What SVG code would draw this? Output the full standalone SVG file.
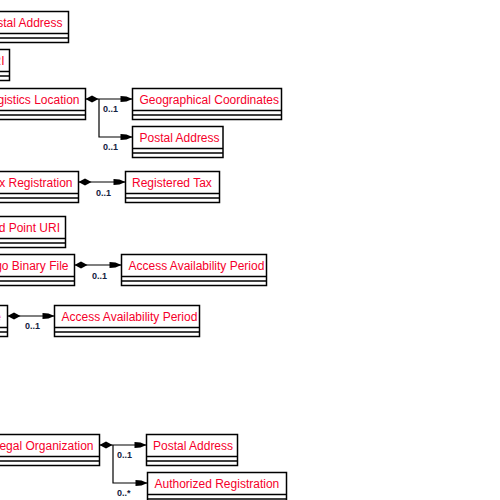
<svg xmlns="http://www.w3.org/2000/svg" width="500" height="500" viewBox="0 0 500 500">
<style>
.box rect{fill:#fff;stroke:#000;stroke-width:1.5}
.box line{stroke:#000;stroke-width:1.5}
.box text{font-family:"Liberation Sans",Arial,sans-serif;font-size:12px;fill:#f5002a}
.conn path{fill:none;stroke:#000;stroke-width:1.2;marker-start:url(#dia);marker-end:url(#arr)}
.conn path.br{marker-start:none}
.mult{font-family:"Liberation Sans",Arial,sans-serif;font-size:9px;font-weight:bold;fill:#142040}
</style>
<defs>
<marker id="arr" markerUnits="userSpaceOnUse" markerWidth="13" markerHeight="10" refX="12" refY="5" orient="auto" overflow="visible">
<path d="M0,2 L6,2.5 L12,5 L6,7.5 L0,8 Z" fill="#000"/>
</marker>
<marker id="dia" markerUnits="userSpaceOnUse" markerWidth="14" markerHeight="10" refX="0" refY="5" orient="auto" overflow="visible">
<path d="M0,5 L6.5,1.5 L13,5 L6.5,8.5 Z" fill="#000"/>
</marker>
</defs>
<rect width="500" height="500" fill="#fff"/>

<g id="postalAddressTop" class="box">
<rect x="-25" y="11.5" width="93.5" height="31"/>
<line x1="-25" y1="33.5" x2="68.5" y2="33.5"/><line x1="-25" y1="38" x2="68.5" y2="38"/>
<text x="62.5" y="26.5" text-anchor="end">Postal Address</text>
</g>
<g id="uriBox" class="box">
<rect x="-40" y="49.5" width="49.5" height="31"/>
<line x1="-40" y1="71.5" x2="9.5" y2="71.5"/><line x1="-40" y1="76" x2="9.5" y2="76"/>
<text x="4.5" y="64.5" text-anchor="end">URI</text>
</g>
<g id="logisticsLocation" class="box">
<rect x="-60" y="88.5" width="145.5" height="31"/>
<line x1="-60" y1="110.5" x2="85.5" y2="110.5"/><line x1="-60" y1="115" x2="85.5" y2="115"/>
<text x="79.5" y="103.5" text-anchor="end">Logistics Location</text>
</g>
<g id="geoCoordinates" class="box">
<rect x="132.5" y="88.5" width="149" height="31"/>
<line x1="132.5" y1="110.5" x2="281.5" y2="110.5"/><line x1="132.5" y1="115" x2="281.5" y2="115"/>
<text x="139.5" y="103.5">Geographical Coordinates</text>
</g>
<g id="postalAddress2" class="box">
<rect x="132.5" y="126.5" width="90.5" height="31"/>
<line x1="132.5" y1="148.5" x2="223" y2="148.5"/><line x1="132.5" y1="153" x2="223" y2="153"/>
<text x="139.5" y="141.5">Postal Address</text>
</g>
<g id="taxRegistration" class="box">
<rect x="-40" y="171.5" width="118.5" height="31"/>
<line x1="-40" y1="193.5" x2="78.5" y2="193.5"/><line x1="-40" y1="198" x2="78.5" y2="198"/>
<text x="72.5" y="186.5" text-anchor="end">Tax Registration</text>
</g>
<g id="registeredTax" class="box">
<rect x="125.5" y="171.5" width="94" height="31"/>
<line x1="125.5" y1="193.5" x2="219.5" y2="193.5"/><line x1="125.5" y1="198" x2="219.5" y2="198"/>
<text x="132" y="186.5">Registered Tax</text>
</g>
<g id="endPointUri" class="box">
<rect x="-40" y="216.5" width="105.5" height="31"/>
<line x1="-40" y1="238.5" x2="65.5" y2="238.5"/><line x1="-40" y1="243" x2="65.5" y2="243"/>
<text x="60" y="231.5" text-anchor="end">End Point URI</text>
</g>
<g id="logoBinaryFile" class="box">
<rect x="-40" y="254.5" width="114.5" height="31"/>
<line x1="-40" y1="276.5" x2="74.5" y2="276.5"/><line x1="-40" y1="281" x2="74.5" y2="281"/>
<text x="68.5" y="269.5" text-anchor="end">Logo Binary File</text>
</g>
<g id="accessPeriod1" class="box">
<rect x="121.5" y="254.5" width="145" height="31"/>
<line x1="121.5" y1="276.5" x2="266.5" y2="276.5"/><line x1="121.5" y1="281" x2="266.5" y2="281"/>
<text x="128.5" y="269.5">Access Availability Period</text>
</g>
<g id="binaryFile" class="box">
<rect x="-80" y="305.5" width="87.5" height="31"/>
<line x1="-80" y1="327.5" x2="7.5" y2="327.5"/><line x1="-80" y1="332" x2="7.5" y2="332"/>
<text x="0.8" y="320.5" text-anchor="end">Binary File</text>
</g>
<g id="accessPeriod2" class="box">
<rect x="54.5" y="305.5" width="145" height="31"/>
<line x1="54.5" y1="327.5" x2="199.5" y2="327.5"/><line x1="54.5" y1="332" x2="199.5" y2="332"/>
<text x="61.5" y="320.5">Access Availability Period</text>
</g>
<g id="legalOrganization" class="box">
<rect x="-40" y="434.5" width="139.5" height="31"/>
<line x1="-40" y1="456.5" x2="99.5" y2="456.5"/><line x1="-40" y1="461" x2="99.5" y2="461"/>
<text x="93.5" y="449.5" text-anchor="end">Legal Organization</text>
</g>
<g id="postalAddress3" class="box">
<rect x="146.5" y="434.5" width="91" height="31"/>
<line x1="146.5" y1="456.5" x2="237.5" y2="456.5"/><line x1="146.5" y1="461" x2="237.5" y2="461"/>
<text x="153" y="449.5">Postal Address</text>
</g>
<g id="authorizedRegistration" class="box">
<rect x="147.5" y="472.5" width="139" height="31"/>
<line x1="147.5" y1="494.5" x2="286.5" y2="494.5"/><line x1="147.5" y1="499" x2="286.5" y2="499"/>
<text x="154.5" y="487.5">Authorized Registration</text>
</g>

<g id="connectors" class="conn">
<path d="M85.5,99 H132.5"/>
<path class="br" d="M99,99 V137 H132.5"/>
<path d="M78.5,182 H125.5"/>
<path d="M74.5,265 H121.5"/>
<path d="M7.5,316 H54.5"/>
<path d="M99.5,445 H146.5"/>
<path class="br" d="M113,445 V483 H147.5"/>
<text class="mult" x="103" y="111.5">0..1</text>
<text class="mult" x="103" y="150">0..1</text>
<text class="mult" x="96" y="196">0..1</text>
<text class="mult" x="92" y="278.5">0..1</text>
<text class="mult" x="25" y="329">0..1</text>
<text class="mult" x="117" y="457.5">0..1</text>
<text class="mult" x="117" y="496">0..*</text>
</g>
</svg>
